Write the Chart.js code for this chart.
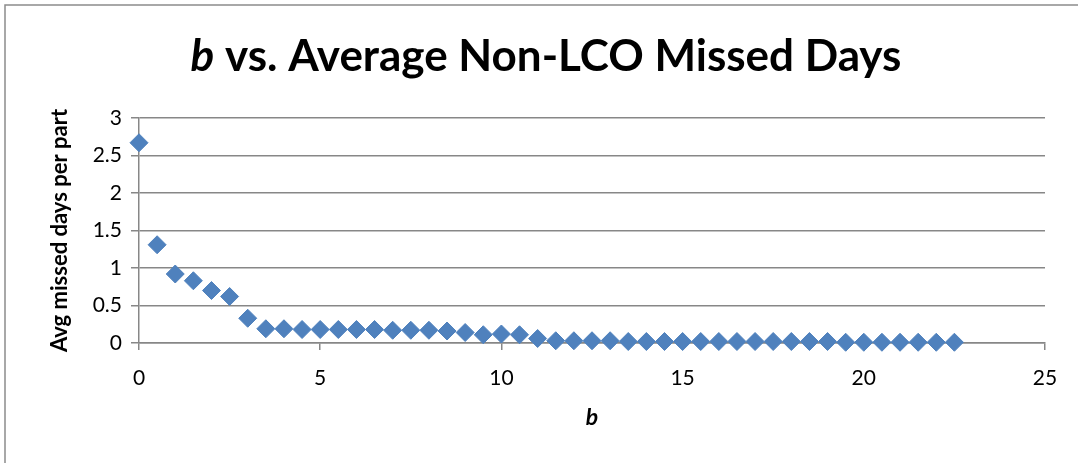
<!DOCTYPE html>
<html>
<head>
<meta charset="utf-8">
<script src="https://cdn.jsdelivr.net/npm/chart.js@4/dist/chart.umd.min.js"></script>
<style>
  html, body { margin: 0; padding: 0; background: #fff; }
  #wrap { width: 1078px; height: 463px; position: relative; }
</style>
</head>
<body>
<div id="wrap"><canvas id="c" width="1078" height="463"></canvas></div>
<script>
// b parameter values (x) and average non-LCO missed days per part (y)
const bValues = [0, 0.5, 1, 1.5, 2, 2.5, 3, 3.5, 4, 4.5, 5, 5.5, 6, 6.5, 7, 7.5, 8, 8.5, 9, 9.5,
  10, 10.5, 11, 11.5, 12, 12.5, 13, 13.5, 14, 14.5, 15, 15.5, 16, 16.5, 17, 17.5, 18, 18.5,
  19, 19.5, 20, 20.5, 21, 21.5, 22, 22.5];
const avgMissedDays = [2.67, 1.31, 0.92, 0.83, 0.70, 0.62, 0.33, 0.19, 0.19, 0.18, 0.18, 0.18,
  0.18, 0.18, 0.17, 0.17, 0.17, 0.16, 0.14, 0.11, 0.12, 0.11, 0.06, 0.03, 0.03, 0.03, 0.03,
  0.02, 0.02, 0.02, 0.02, 0.02, 0.02, 0.02, 0.02, 0.02, 0.02, 0.02, 0.02, 0.01, 0.01, 0.01,
  0.01, 0.01, 0.01, 0.01];
const xTicks = [0, 5, 10, 15, 20, 25];
const yTicks = [0, 0.5, 1, 1.5, 2, 2.5, 3];

const titleMain = ' vs. Average Non-LCO Missed Days';
const titleVar = 'b';
const yTitle = 'Avg missed days per part';
const xTitle = 'b';

const FONT = 'Lato, "DejaVu Sans", sans-serif';
const GRID = '#878787';
const MARK = '#4F81BD';

// Title with an italic variable name followed by upright bold text
const mixedTitle = {
  id: 'mixedTitle',
  afterDraw(chart) {
    const ctx = chart.ctx;
    ctx.save();
    ctx.fillStyle = '#000';
    ctx.textBaseline = 'alphabetic';
    const size = 44;
    const fItal = `italic bold ${size}px ${FONT}`;
    const fBold = `bold ${size}px ${FONT}`;
    ctx.font = fItal;
    const w1 = ctx.measureText(titleVar).width;
    ctx.font = fBold;
    const w2 = ctx.measureText(titleMain).width;
    const cx = 546;
    let x = cx - (w1 + w2) / 2;
    const y = 71;
    ctx.font = fItal;
    ctx.fillText(titleVar, x, y);
    ctx.font = fBold;
    ctx.fillText(titleMain, x + w1, y);
    ctx.restore();
  }
};

// Outer chart frame along the top and left edges
const frame = {
  id: 'frame',
  beforeDraw(chart) {
    const ctx = chart.ctx;
    ctx.save();
    ctx.strokeStyle = '#8c8c8c';
    ctx.lineWidth = 1.5;
    ctx.beginPath();
    ctx.moveTo(5, 463);
    ctx.lineTo(5, 5);
    ctx.lineTo(1078, 5);
    ctx.stroke();
    ctx.restore();
  }
};

const points = bValues.map((b, i) => ({ x: b, y: avgMissedDays[i] }));
const plain = v => String(v);

new Chart(document.getElementById('c'), {
  type: 'scatter',
  data: {
    datasets: [{
      data: points,
      pointStyle: 'rectRot',
      pointRadius: 9,
      pointHoverRadius: 9,
      backgroundColor: MARK,
      borderColor: MARK,
      borderWidth: 1,
      clip: false
    }]
  },
  options: {
    responsive: false,
    animation: false,
    devicePixelRatio: 1,
    layout: { padding: { left: 0, right: 33, top: 118, bottom: 0 } },
    plugins: {
      legend: { display: false },
      title: { display: false },
      tooltip: { enabled: false }
    },
    scales: {
      x: {
        type: 'linear',
        min: 0,
        max: 25,
        afterBuildTicks(scale) { scale.ticks = xTicks.map(v => ({ value: v })); },
        afterFit(scale) { scale.height = 120; },
        ticks: { color: '#000', font: { family: FONT, size: 21 }, padding: 16, maxRotation: 0, callback: plain },
        grid: { drawOnChartArea: false, drawTicks: true, tickLength: 7, color: GRID, lineWidth: 1.5 },
        border: { display: true, color: GRID, width: 1.5 },
        title: {
          display: true, text: xTitle, color: '#000',
          font: { family: FONT, size: 23, weight: 'bold', style: 'italic' },
          padding: { top: 0, bottom: 32 }
        }
      },
      y: {
        type: 'linear',
        min: 0,
        max: 3,
        afterBuildTicks(scale) { scale.ticks = yTicks.map(v => ({ value: v })); },
        afterFit(scale) { scale.width = 139; },
        ticks: { color: '#000', font: { family: FONT, size: 21 }, padding: 9, callback: plain },
        grid: { drawTicks: true, tickLength: 8, color: GRID, lineWidth: 1.5 },
        border: { display: true, color: GRID, width: 1.5 },
        title: {
          display: true, text: yTitle, color: '#000',
          font: { family: FONT, size: 22, weight: 'bold' },
          padding: { top: 47, bottom: 0 }
        }
      }
    }
  },
  plugins: [frame, mixedTitle]
});
</script>
</body>
</html>
